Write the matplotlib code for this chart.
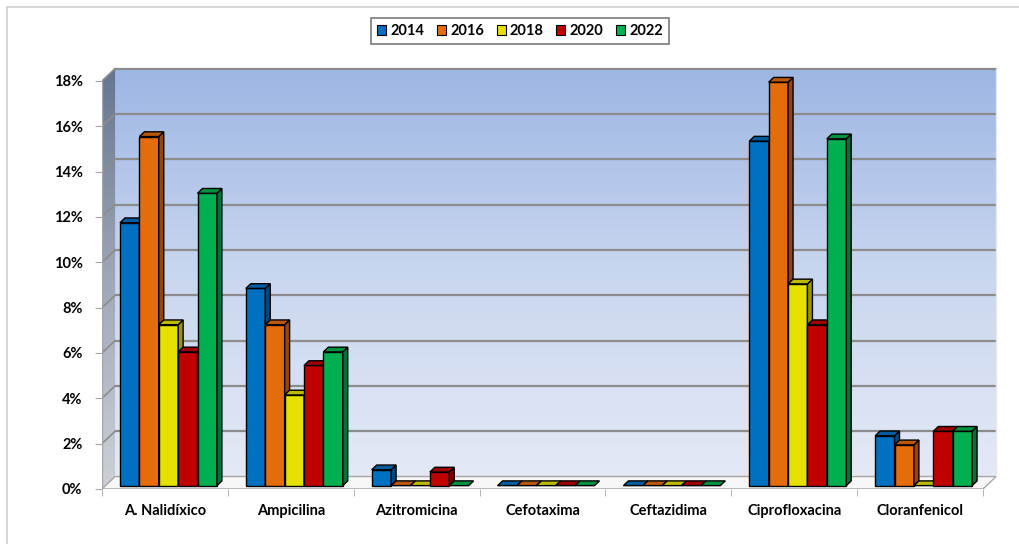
import numpy as np
import matplotlib
matplotlib.use("Agg")
import matplotlib.pyplot as plt
from matplotlib.patches import Polygon, Patch, Rectangle
from matplotlib.colors import LinearSegmentedColormap

# --- data -------------------------------------------------------------
categories = ["A. Nalidíxico", "Ampicilina", "Azitromicina", "Cefotaxima",
              "Ceftazidima", "Ciprofloxacina", "Cloranfenicol"]
years = ["2014", "2016", "2018", "2020", "2022"]
v2014 = [11.6, 8.7, 0.7, 0.0, 0.0, 15.2, 2.2]
v2016 = [15.4, 7.1, 0.0, 0.0, 0.0, 17.8, 1.8]
v2018 = [7.1, 4.0, 0.0, 0.0, 0.0, 8.9, 0.0]
v2020 = [5.9, 5.3, 0.6, 0.0, 0.0, 7.1, 2.4]
v2022 = [12.9, 5.9, 0.0, 0.0, 0.0, 15.3, 2.4]
series = [v2014, v2016, v2018, v2020, v2022]
yticks = [0, 2, 4, 6, 8, 10, 12, 14, 16, 18]

# --- style ------------------------------------------------------------
front_cols = ["#0070C0", "#E46C0A", "#E6E000", "#C00000", "#00B050"]
side_cols = ["#00487F", "#9A4506", "#9A9600", "#800000", "#00713A"]
top_cols = ["#005C9E", "#B95808", "#BDB800", "#9E0000", "#009042"]

plt.rcParams["font.family"] = ["Lato", "DejaVu Sans"]
plt.rcParams["font.weight"] = "bold"
FS = 10.5

W, H = 1020, 544
fig = plt.figure(figsize=(W / 100, H / 100), dpi=100)

# light outer frame of the chart area
fig.patches.append(Rectangle((7 / W, -0.1), 1.2, 1 - 7 / H + 0.1,
                             transform=fig.transFigure, fill=False,
                             edgecolor="#D0D0D0", lw=1.2))

ymax = 18.0
DX, DY = 0.104, 0.55          # depth offset of the back wall (data units)
xmin, xmax = -0.5, len(categories) - 0.5
ax = fig.add_axes([102 / W, (H - 489) / H, (xmax + 0.12 - xmin) * 125.86 / W,
                   (ymax + 0.6) * 22.667 / H])
ax.set_xlim(xmin, xmax + 0.12)
ax.set_ylim(0, ymax + 0.6)
for s in ax.spines.values():
    s.set_visible(False)
ax.patch.set_visible(False)

# back wall with vertical gradient
back_cmap = LinearSegmentedColormap.from_list(
    "back", ["#E4E9F6", "#C9D6EF", "#9DB6E3"])
grad = np.linspace(0, 1, 256).reshape(-1, 1)
ax.imshow(grad, cmap=back_cmap, origin="lower", aspect="auto",
          extent=[xmin + DX, xmax + DX, DY, ymax + DY], zorder=0.5)

# side wall with gradient, clipped to its parallelogram
side_poly = Polygon([(xmin, 0), (xmin, ymax), (xmin + DX, ymax + DY),
                     (xmin + DX, DY)], closed=True, facecolor="none",
                    edgecolor="none")
ax.add_patch(side_poly)
side_cmap = LinearSegmentedColormap.from_list(
    "side", ["#CDD0D6", "#9FA7B7", "#66758F"])
im = ax.imshow(grad, cmap=side_cmap, origin="lower", aspect="auto",
               extent=[xmin, xmin + DX, 0, ymax + DY], zorder=0.6)
im.set_clip_path(side_poly)

# floor
ax.add_patch(Polygon([(xmin, 0), (xmax, 0), (xmax + DX, DY), (xmin + DX, DY)],
                     closed=True, facecolor="#F7F7F7", edgecolor="#A6A6A6",
                     lw=1.0, zorder=0.8))

# gridlines on the back and side walls
for yv in yticks[1:]:
    ax.plot([xmin + DX, xmax + DX], [yv + DY, yv + DY], color="#8C8C8C",
            lw=1.6, zorder=0.9, solid_capstyle="butt")
    ax.plot([xmin, xmin + DX], [yv, yv + DY], color="#8C8C8C", lw=1.2,
            zorder=0.9)
ax.plot([xmax + DX, xmax + DX], [DY, ymax + DY], color="#E8E8E8", lw=1.0,
        zorder=0.9)

# front axis line
ax.plot([xmin, xmin], [0, ymax], color="#A6A6A6", lw=1.0, zorder=0.95)

# 3D columns
bw = 0.154
f1, f2 = 0.27, 0.65           # front / back depth of the columns
bdx, bdy = (f2 - f1) * DX, (f2 - f1) * DY
ox, oy = f1 * DX, f1 * DY
n = len(series)
z = 2
for i in range(len(categories)):
    for j in range(n):
        v = series[j][i]
        x0 = i + (j - n / 2) * bw + ox
        x1 = x0 + bw
        y0, y1 = oy, v + oy
        ec = "black"
        if v > 0:
            ax.add_patch(Polygon([(x0, y0), (x1, y0), (x1, y1), (x0, y1)],
                                 closed=True, facecolor=front_cols[j],
                                 edgecolor=ec, lw=1.0, zorder=z))
            ax.add_patch(Polygon([(x1, y0), (x1 + bdx, y0 + bdy),
                                  (x1 + bdx, y1 + bdy), (x1, y1)],
                                 closed=True, facecolor=side_cols[j],
                                 edgecolor=ec, lw=1.0, zorder=z))
        ax.add_patch(Polygon([(x0, y1), (x1, y1), (x1 + bdx, y1 + bdy),
                              (x0 + bdx, y1 + bdy)], closed=True,
                             facecolor=top_cols[j], edgecolor=ec, lw=1.0,
                             zorder=z))
        z += 0.01

# axis ticks and labels
ax.set_yticks(yticks)
ax.set_yticklabels([f"{t}%" for t in yticks])
ax.tick_params(axis="y", length=5, color="#A6A6A6", pad=9, labelsize=FS)
ax.set_xticks(range(len(categories)))
ax.set_xticklabels(categories)
ax.set_xticks(np.arange(len(categories) + 1) - 0.5, minor=True)
ax.tick_params(axis="x", which="major", length=0, pad=11, labelsize=FS)
ax.tick_params(axis="x", which="minor", length=5, color="#A6A6A6")
ax.plot([xmin, xmax], [0, 0], color="#A6A6A6", lw=1.0, zorder=0.95)
for lab in ax.get_xticklabels() + ax.get_yticklabels():
    lab.set_fontweight("bold")

# legend
handles = [Patch(facecolor=c, edgecolor="black", lw=0.8) for c in front_cols]
leg = fig.legend(handles, years, loc="center", ncol=5,
                 bbox_to_anchor=(520 / W, 1 - 31 / H), fancybox=False,
                 edgecolor="#595959", handlelength=0.62, handleheight=0.62,
                 handletextpad=0.3, columnspacing=0.85, borderpad=0.4,
                 prop={"weight": "bold", "size": FS})
leg.get_frame().set_linewidth(1.2)

fig.savefig("out.png", dpi=100)
